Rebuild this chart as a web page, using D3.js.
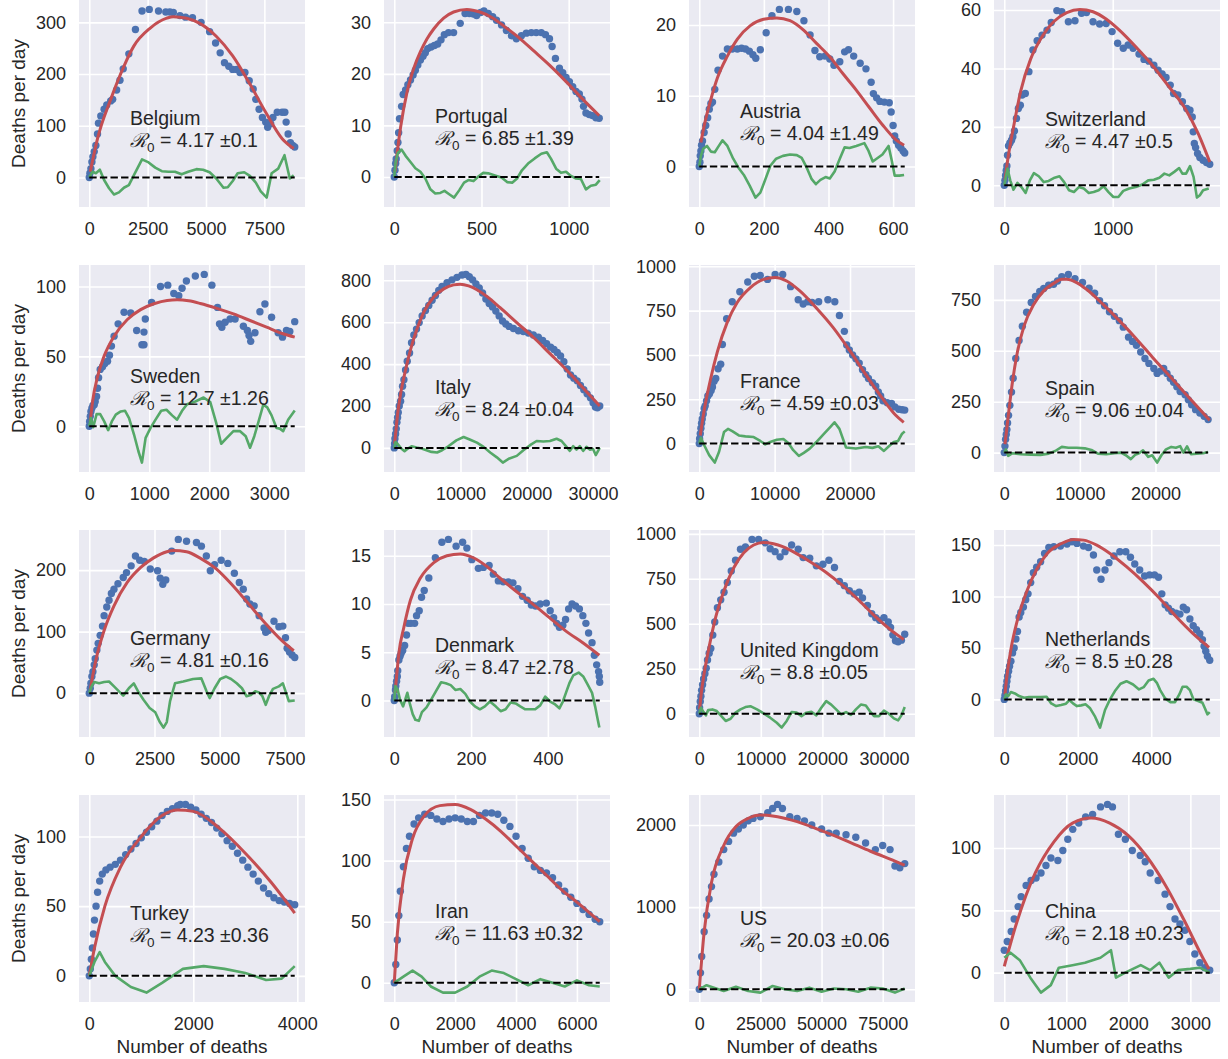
<!DOCTYPE html>
<html><head><meta charset="utf-8">
<script src="https://cdn.jsdelivr.net/npm/d3@7"></script>
<style>
body{margin:0;background:#fff}
text{font-family:"Liberation Sans",Arial,Helvetica,sans-serif;fill:#262626}
</style>
</head><body>
<svg id="chart" width="1228" height="1059"></svg>
<script>
// ---------------- DATA ----------------
const countries = ["Belgium","Portugal","Austria","Switzerland","Sweden","Italy","France","Spain",
  "Germany","Denmark","United Kingdom","Netherlands","Turkey","Iran","US","China"];
const r0Values = ["4.17","6.85","4.04","4.47","12.7","8.24","4.59","9.06","4.81","8.47","8.8","8.5","4.23","11.63","20.03","2.18"];
const r0Errors = ["0.1","1.39","1.49","0.5","1.26","0.04","0.03","0.04","0.16","2.78","0.05","0.28","0.36","0.32","0.06","0.23"];

const xTickValues = [[0,2500,5000,7500],[0,500,1000],[0,200,400,600],[0,1000],
  [0,1000,2000,3000],[0,10000,20000,30000],[0,10000,20000],[0,10000,20000],
  [0,2500,5000,7500],[0,200,400],[0,10000,20000,30000],[0,2000,4000],
  [0,2000,4000],[0,2000,4000,6000],[0,25000,50000,75000],[0,1000,2000,3000]];
const yTickValues = [[0,100,200,300],[0,10,20,30],[0,10,20],[0,20,40,60],
  [0,50,100],[0,200,400,600,800],[0,250,500,750,1000],[0,250,500,750],
  [0,100,200],[0,5,10,15],[0,250,500,750,1000],[0,50,100,150],
  [0,50,100],[0,50,100,150],[0,1000,2000],[0,50,100]];

// Belgium
const belgiumPoints = [[0,0],[28,8],[71,17],[113,30],[155,40],[212,50],[282,62],[353,84],[395,105],[494,119],[636,132],[749,140],[918,148],[1003,151],[1172,169],[1314,188],[1455,210],[1695,239],[1977,286],[2260,322],[2570,325],[2966,322],[3277,320],[3450,320],[3600,319],[3884,313],[4124,310],[4421,309],[4788,300],[5155,282],[5410,260],[5607,241],[5791,222],[5975,215],[6144,209],[6314,209],[6455,203],[6667,203],[6850,187],[7020,171],[7133,151],[7274,132],[7415,116],[7556,107],[7641,97],[7768,104],[7867,116],[8050,126],[8262,126],[8376,126],[8432,107],[8517,84],[8616,67],[8715,62],[8800,59]];
const belgiumFit = [[42,11],[353,75],[918,151],[1483,215],[1907,254],[2613,289],[3319,308],[3602,311],[4167,308],[4732,298],[5438,273],[6144,235],[6850,183],[7556,126],[8262,75],[8757,56]];
const belgiumResidual = [[0,0],[141,11],[282,8],[452,15],[636,-5],[847,-21],[1059,-33],[1271,-29],[1483,-20],[1695,-15],[1907,4],[2260,35],[2542,29],[2825,19],[3107,12],[3390,11],[3672,11],[3955,6],[4237,11],[4590,16],[4873,15],[5155,10],[5438,-2],[5749,-20],[5932,-19],[6144,-7],[6356,8],[6638,10],[6879,3],[7133,-10],[7345,-27],[7599,-39],[7811,8],[8093,17],[8362,43],[8588,-2],[8757,4]];

// Portugal
const portugalPoints = [[0,0],[4,1.3],[8,2.6],[11,3.5],[17,5.1],[21,6.7],[25,8.6],[30,11.3],[42,13.7],[51,16],[65,16.9],[78,17.9],[93,18.8],[108,19.8],[121,20.7],[135,21.7],[150,22.7],[165,23.4],[178,24.1],[192,24.9],[211,25.2],[230,25.5],[249,25.8],[268,26.6],[287,27.6],[311,28],[340,28],[378,29.8],[406,31.7],[431,31.7],[454,31.6],[472,31.3],[495,31.9],[514,32.2],[539,31.7],[564,31.1],[586,30.4],[615,29.5],[643,28.4],[672,27.4],[700,26.8],[729,27.4],[757,27.9],[786,28],[814,28],[843,28],[867,27.6],[890,26.8],[905,25.3],[924,23],[947,21.1],[966,20.2],[985,19.3],[1004,18.5],[1023,17.5],[1042,16.6],[1061,16.1],[1076,15.1],[1085,13.7],[1099,12.4],[1118,12.1],[1137,11.9],[1156,11.5],[1175,11.4]];
const portugalFit = [[4,1],[17,4.8],[36,9.6],[74,16.6],[112,21.1],[150,24.3],[188,26.8],[226,28.7],[283,30.8],[340,32],[416,32.5],[491,32],[567,30.8],[643,28.9],[719,26.9],[795,24.6],[890,21.7],[985,18.5],[1080,15.1],[1175,11.9]];
const portugalResidual = [[0,0],[8,2.9],[21,4.7],[42,5.3],[65,4.1],[93,2.9],[121,1.7],[150,1],[178,-0.3],[207,-2.4],[235,-3.2],[264,-3.1],[288,-2.7],[317,-3.4],[343,-4],[372,-2.6],[400,-1.1],[425,-0.6],[454,-0.8],[482,0.1],[510,0.8],[539,0.7],[577,0.3],[615,-0.1],[647,-1],[676,-1.1],[704,-0.3],[732,1.3],[767,2.6],[805,3.6],[843,4.5],[875,4.8],[899,3.5],[928,1.6],[956,0.8],[985,1],[1013,0.2],[1042,-0.3],[1070,-0.4],[1099,-2.4],[1127,-1.7],[1156,-1.5],[1178,-0.6]];

// Austria
const austriaPoints = [[0,0],[2,0.6],[3,1.5],[5,2.2],[7,3],[10,3.6],[15,4.8],[20,5.8],[26,6.9],[31,8.1],[36,8.9],[41,9.1],[48,10.9],[58,13.6],[72,15.6],[87,16.6],[102,16.6],[118,16.6],[131,16.7],[143,16.6],[155,16.3],[166,15.8],[175,15.3],[189,16.5],[207,18.9],[225,21.3],[248,22.2],[276,22.2],[302,21.9],[324,20.6],[343,18.6],[358,16.4],[373,15.5],[389,15.6],[404,15.2],[417,14.3],[435,14.8],[450,16.2],[462,16.5],[478,15.6],[498,14.6],[516,13.8],[532,11.9],[539,10.3],[549,9.7],[559,9.2],[573,9.1],[588,9],[594,7.7],[600,5.8],[605,4.3],[610,3.6],[617,3],[624,2.6],[631,2.2],[636,1.9]];
const austriaFit = [[5,3.4],[15,5.7],[36,9.5],[56,12.5],[87,15.6],[118,18],[158,19.9],[199,20.8],[240,21],[281,20.6],[322,19.3],[363,17.4],[404,15.5],[445,13.1],[486,10.8],[527,8.3],[567,5.9],[608,3.8],[634,3]];
const austriaResidual = [[0,0],[5,1.5],[12,2.5],[24,2.9],[36,2.1],[48,2],[59,2.8],[72,3.7],[87,2.9],[105,1.1],[123,-0.3],[138,-1.2],[156,-2.7],[174,-4.4],[189,-3.7],[204,-1.9],[220,0.1],[238,1.1],[259,1.5],[281,1.7],[302,1.6],[317,1.2],[332,-0.1],[348,-1.8],[361,-2.5],[375,-1.9],[391,-1.5],[404,-1.7],[419,-0.7],[435,1.1],[450,2.7],[465,2.6],[486,2.9],[511,3.3],[524,2.2],[537,0.7],[552,1.2],[567,1.7],[586,2.9],[596,0.8],[605,-1.3],[619,-1.3],[634,-1.2]];

// Switzerland
const switzerlandPoints = [[0,0],[6,1.7],[12,3.4],[18,5.1],[24,6.6],[30,10.3],[39,13.5],[52,14.5],[67,15.4],[79,16.6],[94,18.6],[112,22.9],[130,26.3],[148,27.4],[164,30.9],[194,31.4],[227,38.9],[264,46.3],[303,49.5],[348,51.4],[394,53.1],[433,55.7],[485,59.8],[530,59.4],[591,56],[652,56.3],[712,58.9],[758,59.1],[818,56],[879,55.2],[939,55.4],[994,52.6],[1045,48.6],[1097,46.9],[1142,48],[1188,46.9],[1242,44.9],[1288,43.1],[1333,42.5],[1379,41.1],[1418,39.4],[1455,38.1],[1491,36.9],[1530,34.3],[1561,31.4],[1600,30.9],[1642,28.6],[1682,26.3],[1712,25.7],[1733,23.4],[1742,18.3],[1752,14.3],[1764,12.9],[1782,10.9],[1803,9.5],[1833,8.6],[1864,7.8],[1894,7.2]];
const switzerlandFit = [[6,1.7],[30,8.3],[91,21.1],[152,32.3],[242,43.1],[333,49.9],[455,56],[576,59.1],[697,60.2],[818,59.4],[939,56.9],[1061,53.1],[1212,47.4],[1364,41.1],[1515,33.9],[1667,26.3],[1788,17.7],[1894,8]];
const switzerlandResidual = [[0,0],[15,2.9],[30,5.7],[55,1.7],[85,-1.5],[121,0.8],[158,-0.6],[197,-2.6],[236,1.7],[273,4.2],[318,3.1],[364,1.1],[409,1.5],[464,2.6],[509,3.1],[552,1.1],[597,-1.7],[642,-2.3],[688,-0.6],[733,-1.1],[779,-2.6],[824,-2.3],[870,-1.7],[915,-0.3],[961,-2.3],[1006,-4],[1052,-4],[1097,-1.9],[1152,-1.1],[1212,-0.6],[1273,0.3],[1327,1.7],[1379,1.9],[1430,2.6],[1476,4],[1521,3.4],[1567,4.6],[1612,5.9],[1642,4],[1676,4],[1712,6.6],[1745,2.9],[1776,-4.2],[1803,-3.4],[1833,-1.7],[1885,-1.1]];

// Sweden
const swedenPoints = [[0,0],[6,3.5],[17,7.1],[28,10.6],[44,13],[61,14.9],[83,15.4],[99,17.7],[122,21.3],[138,27.2],[155,34.8],[182,40.7],[221,42.6],[260,44.9],[304,46.6],[337,50.8],[370,57.4],[414,64.5],[481,73.3],[580,81.6],[691,81.1],[790,68.6],[878,58.4],[912,58.4],[912,67.4],[934,76.8],[1039,88.7],[1188,100],[1309,101],[1409,95],[1492,93.4],[1547,98.8],[1619,104],[1768,107.6],[1917,108.7],[2044,101],[2138,85.1],[2171,73.3],[2210,70.9],[2265,74.5],[2348,76.8],[2431,76.8],[2569,71.6],[2635,68.6],[2663,65],[2691,60.8],[2762,66.9],[2845,82],[2928,87.5],[3039,78],[3149,66.9],[3221,63.8],[3287,68.6],[3343,67.9],[3425,74.9]];
const swedenFit = [[17,3.5],[55,17.7],[138,35.5],[249,50.4],[414,64.5],[635,76.4],[856,83.5],[1077,87.7],[1298,90.1],[1464,90.5],[1657,89.8],[1851,87.9],[2127,84.4],[2403,80.4],[2680,75.7],[2956,70.9],[3232,66.2],[3425,63.8]];
const swedenResidual = [[0,0],[28,5.9],[66,-0.7],[122,8.7],[182,8.7],[249,3.5],[315,-2.8],[376,3.5],[442,8.3],[525,10.6],[597,11.1],[663,5.9],[746,-5.9],[818,-17.7],[878,-26],[939,-8.3],[1022,-1.2],[1105,4.7],[1199,11.1],[1287,11.8],[1381,7.8],[1464,4.7],[1547,11.1],[1630,15.8],[1768,17.7],[1906,20.6],[2017,17.3],[2116,2.4],[2199,-12.5],[2293,-8.3],[2403,-3.5],[2514,-3.5],[2608,-7.1],[2680,-15.4],[2751,-7.1],[2823,3.5],[2901,15.4],[2967,13.5],[3039,7.8],[3122,-1.2],[3177,-1.7],[3232,-3.5],[3315,4.7],[3425,11.3]];

// Italy
const italyPoints = [[0,0],[50,20],[100,44],[200,67],[301,91],[401,122],[501,145],[601,169],[752,200],[952,223],[1103,255],[1253,294],[1454,325],[1704,372],[1955,414],[2306,453],[2607,502],[2957,539],[3358,567],[3759,598],[4210,630],[4711,656],[5212,680],[5714,705],[6215,727],[6716,752],[7218,770],[7970,789],[8722,802],[9474,814],[10226,825],[10827,828],[11328,817],[11830,802],[12331,783],[12832,763],[13333,739],[13835,711],[14336,689],[14837,673],[15338,653],[15840,630],[16341,606],[16842,591],[17343,580],[17995,570],[18747,559],[19499,555],[20251,548],[21003,539],[21754,528],[22406,513],[23008,497],[23609,481],[24110,470],[24612,455],[25113,439],[25614,411],[26115,377],[26617,348],[27118,333],[27619,320],[28120,298],[28622,278],[29123,258],[29624,239],[30025,216],[30376,195],[30676,192],[31028,200]];
const italyFit = [[50,20],[251,83],[501,161],[952,258],[1704,372],[2456,469],[3458,570],[4460,648],[5964,720],[7469,759],[8973,778],[9975,781],[11228,773],[12481,755],[13985,723],[15991,669],[18497,598],[21003,528],[23509,450],[26015,372],[28521,286],[31028,200]];
const italyResidual = [[0,0],[200,28],[551,17],[1053,-3],[1554,-16],[2055,-3],[2607,8],[3358,2],[4110,-3],[4862,-11],[5614,-19],[6466,-22],[7218,-11],[8220,9],[9373,36],[10476,52],[11479,39],[12481,25],[13484,5],[14486,-22],[15489,-45],[16391,-70],[17393,-50],[18497,-38],[19499,-11],[20501,13],[21504,33],[22506,31],[23509,33],[24511,44],[25263,33],[25915,9],[26516,-14],[27018,8],[27519,-8],[28020,8],[28521,-14],[29023,5],[29524,-8],[30025,-5],[30426,-34],[31028,0]];

// France
const francePoints = [[0,0],[44,28],[131,56],[219,87],[306,115],[394,139],[525,167],[656,198],[788,213],[963,241],[1138,269],[1357,281],[1575,300],[1750,319],[1969,352],[2188,367],[2494,422],[2844,448],[3063,559],[3632,704],[4376,800],[5382,856],[6433,911],[7308,944],[8095,948],[9058,926],[10065,954],[11071,954],[12121,885],[13128,811],[13784,787],[14397,800],[14966,796],[15841,800],[17066,811],[17985,800],[18598,722],[19254,633],[19560,556],[19911,528],[20348,500],[20786,478],[21224,454],[21661,417],[22099,389],[22449,367],[22974,343],[23412,324],[23762,291],[24068,269],[24374,241],[24943,231],[25512,226],[25950,207],[26475,194],[26913,191],[27263,189]];
const franceFit = [[131,46],[656,189],[1532,370],[2407,519],[3720,685],[5032,796],[6783,880],[8533,926],[10065,937],[11597,917],[13347,861],[15535,765],[17723,657],[19911,528],[22099,389],[24287,256],[26037,161],[27131,120]];
const franceResidual = [[0,0],[219,33],[656,-9],[1313,-65],[2057,-107],[2626,-46],[3282,65],[3807,83],[4376,70],[5251,46],[6126,41],[7220,37],[8095,15],[8752,-4],[9408,9],[10283,22],[11159,26],[11815,4],[12471,-37],[13215,-69],[13872,-52],[14660,-28],[15535,9],[16629,59],[17373,93],[17941,120],[18598,83],[19473,-22],[20786,-28],[22099,-19],[22974,-24],[23762,-15],[24505,-41],[25162,-15],[25818,9],[26387,15],[26913,56],[27263,69]];

// Spain
const spainPoints = [[0,0],[87,32],[174,65],[261,89],[348,113],[435,146],[565,183],[739,232],[957,297],[1174,365],[1522,462],[1957,551],[2391,621],[2957,689],[3565,737],[4130,767],[4696,791],[5217,806],[5870,822],[6522,827],[7043,843],[7609,864],[8478,875],[9348,854],[10348,835],[11217,807],[11957,783],[12609,746],[13261,721],[13913,692],[14565,669],[15217,648],[15739,616],[16435,567],[16957,546],[17478,527],[18043,494],[18609,462],[19130,438],[19783,413],[20217,389],[20652,400],[21087,413],[21522,389],[21957,365],[22391,345],[22826,324],[23261,300],[23913,284],[24348,259],[24783,235],[25304,211],[25870,194],[26435,178],[26957,162]];
const spainFit = [[87,41],[348,122],[652,219],[1087,348],[1739,494],[2609,621],[3913,729],[5217,794],[6522,831],[7609,851],[8261,851],[9565,835],[10870,802],[13043,729],[15217,648],[17391,562],[19565,470],[21739,381],[23913,292],[26087,203],[27174,159]];
const spainResidual = [[0,0],[217,16],[522,-16],[1087,-3],[2174,-8],[3478,-10],[4783,-11],[5870,-5],[6739,8],[7609,28],[8478,24],[9565,24],[10652,21],[11522,13],[12391,-5],[13478,-8],[14565,-3],[15435,0],[16087,-13],[16739,-32],[17304,-11],[17826,-3],[18348,11],[19043,-21],[19565,-13],[20217,-49],[20783,-13],[21391,16],[22087,28],[22696,24],[23261,32],[23696,0],[24174,31],[24696,-8],[25435,-5],[26304,-3],[26957,3]];

// Germany
const germanyPoints = [[0,0],[38,8],[63,16],[101,27],[139,35],[190,46],[228,56],[291,70],[341,81],[417,94],[506,109],[569,126],[670,140],[758,151],[847,162],[948,169],[1100,178],[1302,188],[1428,196],[1605,207],[1770,223],[1934,216],[2111,214],[2339,202],[2617,199],[2718,187],[2819,177],[2933,184],[3161,231],[3413,250],[3729,247],[4109,245],[4298,239],[4488,223],[4640,199],[4804,209],[5057,216],[5310,211],[5562,195],[5752,180],[5904,169],[6030,153],[6157,145],[6321,142],[6511,126],[6701,106],[6764,99],[6865,102],[7080,117],[7269,108],[7421,109],[7522,90],[7585,73],[7674,67],[7775,62],[7876,58]];
const germanyFit = [[38,5],[126,27],[316,65],[569,102],[948,142],[1454,180],[1960,204],[2465,220],[2971,230],[3224,232],[3729,230],[4235,220],[4867,202],[5499,175],[6131,144],[6764,113],[7396,85],[7838,69]];
const germanyResidual = [[0,0],[88,11],[190,18],[379,16],[569,18],[758,19],[948,11],[1138,3],[1302,-4],[1517,8],[1707,16],[1896,1],[2086,-11],[2314,-24],[2529,-31],[2693,-46],[2845,-56],[2971,-47],[3097,-13],[3287,16],[3603,19],[3982,23],[4298,24],[4488,4],[4614,-8],[4804,8],[5019,23],[5246,27],[5436,23],[5651,16],[5853,8],[6030,-5],[6194,-3],[6359,3],[6511,1],[6637,-5],[6764,-19],[6890,-5],[7042,7],[7269,11],[7421,16],[7548,0],[7649,-13],[7876,-12]];

// Denmark
const denmarkPoints = [[0,0],[1,0.4],[3,1.1],[4,1.5],[6,2],[8,2.5],[9,3.1],[12,4.2],[15,4.6],[18,4.9],[22,5.2],[27,5.7],[32,6.8],[36,8],[43,8],[53,8],[58,8.8],[65,9.3],[71,10.7],[78,11.4],[90,12.7],[107,14.8],[124,16.4],[141,16.7],[161,16],[178,16.4],[189,15.8],[202,14.6],[219,13.7],[232,13.8],[247,14],[258,13.1],[271,12.4],[284,12.3],[297,12.3],[309,12.2],[322,11.6],[334,10.8],[346,10.4],[357,9.9],[368,9.8],[380,10],[396,10.1],[406,9.3],[415,8.6],[423,8],[430,7.6],[439,7.8],[446,8.4],[454,9.5],[463,10],[472,9.8],[482,9.5],[491,8.8],[499,8],[506,7],[515,6],[521,4.7],[527,3.7],[532,3],[534,2.5],[535,1.9]];
const denmarkFit = [[2,0.8],[6,2.5],[12,4.9],[25,7.6],[42,10.4],[68,12.7],[103,14.3],[137,15],[172,15.2],[206,14.8],[241,13.9],[275,12.7],[318,11.3],[361,10],[404,8.6],[447,7.2],[491,6],[534,4.7]];
const denmarkResidual = [[0,0],[3,1.5],[9,1.1],[15,0.1],[23,-0.6],[34,0.8],[41,-0.4],[48,-1.4],[55,-2],[64,-2.1],[72,-1.2],[84,-0.7],[96,0.1],[109,1],[122,1.9],[134,1.8],[147,1.6],[159,1.1],[172,1.2],[185,0.7],[197,-0.1],[210,-0.6],[223,-0.9],[236,-0.6],[249,-0.1],[264,-0.6],[277,-1.1],[290,-0.9],[303,-0.2],[316,-0.3],[328,-0.6],[341,-0.9],[354,-0.9],[367,-0.9],[380,-0.5],[393,0.4],[406,-0.1],[419,-0.4],[430,-0.8],[439,-0.1],[447,0.8],[456,1.8],[466,2.6],[480,2.9],[492,2.5],[503,1.7],[515,0.8],[523,-0.6],[529,-1.8],[534,-2.8]];

// United Kingdom
const ukPoints = [[0,0],[54,33],[161,68],[268,97],[375,130],[536,161],[696,193],[911,222],[1125,253],[1339,299],[1607,336],[1875,363],[2196,437],[2518,510],[2946,589],[3482,633],[4018,675],[4553,730],[5196,794],[5893,853],[6696,914],[7500,927],[8571,969],[9643,969],[10714,950],[11518,917],[12321,901],[13125,872],[13929,901],[15000,938],[16071,914],[16875,868],[17946,864],[19018,822],[20089,831],[21054,853],[21964,813],[22768,736],[23571,712],[24375,684],[25179,666],[25982,675],[26518,644],[27321,602],[28018,556],[28661,534],[29304,519],[30000,534],[30696,510],[31071,479],[31446,437],[31875,406],[32304,400],[32839,409],[33375,442]];
const ukFit = [[54,24],[268,97],[804,226],[1607,372],[2679,538],[4018,684],[5625,813],[7232,895],[8839,938],[10446,952],[12054,945],[13661,927],[15804,890],[17946,846],[20625,785],[23304,712],[25982,629],[28661,538],[31339,459],[33214,413]];
const ukResidual = [[0,0],[268,33],[696,9],[1071,-9],[1446,20],[2143,24],[2839,15],[3589,-13],[4286,-40],[5089,-28],[5893,6],[6696,24],[7500,37],[8304,42],[9375,24],[10446,2],[11518,-22],[12589,-50],[13393,-77],[14196,-40],[15000,9],[15804,6],[16607,-13],[17411,6],[18214,11],[19018,-9],[19821,33],[20625,70],[21429,51],[22232,24],[23036,-4],[23839,9],[24643,-7],[25446,24],[26250,51],[27054,46],[27696,15],[28393,-13],[29196,-13],[30000,18],[30804,0],[31607,-26],[32304,-37],[32839,-9],[33375,37]];

// Netherlands
const netherlandsPoints = [[0,0],[18,3.9],[36,8.1],[54,12.9],[72,17.7],[90,22.6],[117,27.4],[144,32.3],[180,37.1],[225,45.2],[270,50],[315,58.7],[360,66.1],[404,80],[449,84.5],[521,89.7],[584,96.8],[647,102.6],[719,113.5],[791,123.2],[881,128.4],[989,133.9],[1097,141.9],[1213,147.7],[1348,148.4],[1528,149],[1708,151],[1843,153.2],[1978,151.6],[2157,149],[2292,147.7],[2427,140.3],[2517,125.8],[2634,116.8],[2742,125.8],[2850,132.9],[2985,139.4],[3146,143.5],[3308,143.5],[3434,138.1],[3551,131.6],[3686,125.8],[3821,120],[3955,121],[4090,121],[4198,118.7],[4288,102.6],[4378,91.9],[4468,88.7],[4558,85.5],[4675,83.9],[4782,82.9],[4872,89.7],[4962,87.1],[5052,78.1],[5142,71.6],[5232,67.7],[5322,63.9],[5394,58.1],[5439,51.6],[5484,46.8],[5529,41.9],[5592,38.1]];
const netherlandsFit = [[18,4.8],[72,22.6],[180,48.4],[360,77.4],[629,106.5],[899,127.4],[1169,141.9],[1528,151],[1888,155.5],[2157,154.8],[2517,150],[2877,141.9],[3326,129],[3776,114.5],[4225,98.4],[4675,80.6],[5124,64.5],[5574,50.6]];
const netherlandsResidual = [[0,0],[45,4.8],[108,3.2],[180,7.1],[288,5.8],[404,3.2],[539,1.6],[674,2.3],[809,2.3],[989,2.3],[1151,2.6],[1277,-3.9],[1411,-6.5],[1546,-5.5],[1681,-4.2],[1771,-0.6],[1870,-3.9],[1978,-6.5],[2094,-5.8],[2211,-4.8],[2337,-8.7],[2472,-16.8],[2607,-27.4],[2742,-10.3],[2877,0],[3012,8.1],[3164,15.2],[3326,17.7],[3506,14.5],[3668,9.7],[3794,11.9],[3928,18.4],[4063,20],[4153,16.1],[4243,9],[4378,1],[4513,-2.6],[4648,-2.6],[4764,4.8],[4854,12.3],[4962,12.3],[5052,9],[5151,0],[5277,-1.6],[5394,-3.2],[5466,-9],[5529,-14.5],[5592,-12.3]];

// Turkey
const turkeyPoints = [[0,0],[20,5],[40,12],[60,20],[80,30],[100,40],[130,50],[160,60],[200,68],[250,73],[320,76],[400,78],[500,80],[600,83],[700,87],[800,91],[900,95],[1000,99],[1100,103],[1200,107],[1300,111],[1400,115],[1500,118],[1600,120],[1700,122],[1750,123],[1850,123],[1950,121],[2050,119],[2150,116],[2250,113],[2350,110],[2450,106],[2550,102],[2650,97],[2750,93],[2850,88],[2950,83],[3050,78],[3150,73],[3250,68],[3350,63],[3450,59],[3550,56],[3650,54],[3750,53],[3850,52],[3950,51]];
const turkeyFit = [[0,0],[100,20],[300,50],[600,78],[1000,100],[1400,115],[1700,119],[2000,118],[2500,106],[3000,88],[3500,67],[3950,45]];
const turkeyResidual = [[0,0],[100,10],[200,17],[300,10],[500,0],[800,-8],[1100,-12],[1400,-5],[1800,5],[2200,7],[2600,5],[3000,2],[3400,-3],[3700,-2],[3950,7]];

// Iran
const iranPoints = [[0,0],[50,15],[100,35],[150,55],[200,75],[300,95],[400,110],[500,120],[650,130],[800,135],[1000,138],[1200,137],[1400,134],[1600,132],[1800,134],[2000,135],[2200,134],[2400,132],[2600,132],[2800,137],[3000,139],[3200,139],[3400,138],[3600,133],[3800,128],[4000,120],[4200,110],[4400,102],[4600,95],[4800,92],[5000,90],[5200,86],[5400,80],[5600,75],[5800,70],[6000,65],[6200,60],[6400,56],[6600,52],[6750,50]];
const iranFit = [[0,0],[100,40],[300,85],[600,118],[1000,137],[1500,145],[2000,146],[2500,142],[3000,134],[3500,124],[4000,112],[4500,100],[5000,88],[5500,76],[6000,66],[6750,50]];
const iranResidual = [[0,0],[300,5],[600,10],[900,5],[1200,-3],[1600,-8],[2000,-8],[2400,-3],[2800,5],[3200,10],[3600,8],[4000,3],[4400,-2],[4800,3],[5200,0],[5600,-3],[6000,2],[6400,-2],[6750,-3]];

// US
const usPoints = [[0,0],[500,200],[1000,400],[2000,700],[3000,900],[4000,1100],[5000,1250],[6000,1400],[8000,1550],[10000,1700],[12000,1800],[14000,1900],[16000,1950],[18000,2000],[20000,2050],[22000,2080],[25000,2100],[28000,2150],[30000,2200],[32000,2250],[34000,2200],[37000,2100],[40000,2080],[43000,2050],[46000,2000],[50000,1950],[53000,1900],[56000,1900],[60000,1880],[64000,1850],[68000,1780],[72000,1700],[75000,1750],[78000,1700],[80000,1500],[82000,1480],[84000,1530]];
const usFit = [[0,0],[2000,700],[5000,1300],[10000,1750],[15000,1980],[20000,2080],[25000,2120],[30000,2110],[40000,2040],[50000,1930],[60000,1810],[70000,1680],[80000,1560],[84000,1510]];
const usResidual = [[0,0],[3000,50],[6000,20],[10000,-20],[15000,30],[20000,-20],[25000,-40],[30000,40],[35000,0],[40000,-20],[45000,20],[50000,-30],[55000,10],[60000,0],[65000,-30],[70000,20],[75000,10],[80000,-40],[84000,10]];

// China
const chinaPoints = [[0,18],[48,25],[112,33],[160,43],[224,53],[272,61],[352,70],[432,74],[512,76],[592,80],[672,86],[752,92],[864,90],[944,98],[1024,107],[1104,115],[1200,120],[1312,125],[1424,127],[1552,133],[1664,135],[1744,133],[1840,111],[1952,107],[2064,98],[2192,94],[2272,89],[2352,80],[2480,74],[2592,63],[2672,53],[2752,43],[2832,39],[2912,34],[2992,25],[3072,15],[3152,8],[3232,4],[3312,2]];
const chinaFit = [[0,5],[200,40],[500,80],[800,105],[1100,120],[1400,124],[1700,120],[2000,110],[2300,93],[2600,70],[2900,42],[3200,12],[3300,3]];
const chinaResidual = [[0,12],[100,16],[250,10],[420,-4],[590,-16],[750,-10],[880,4],[1100,6],[1300,8],[1550,12],[1720,18],[1800,-4],[1950,0],[2200,6],[2350,2],[2500,8],[2650,-4],[2800,2],[3000,3],[3150,4],[3312,0]];

const pointSets = [belgiumPoints,portugalPoints,austriaPoints,switzerlandPoints,swedenPoints,italyPoints,francePoints,spainPoints,germanyPoints,denmarkPoints,ukPoints,netherlandsPoints,turkeyPoints,iranPoints,usPoints,chinaPoints];
const fitSets = [belgiumFit,portugalFit,austriaFit,switzerlandFit,swedenFit,italyFit,franceFit,spainFit,germanyFit,denmarkFit,ukFit,netherlandsFit,turkeyFit,iranFit,usFit,chinaFit];
const residualSets = [belgiumResidual,portugalResidual,austriaResidual,switzerlandResidual,swedenResidual,italyResidual,franceResidual,spainResidual,germanyResidual,denmarkResidual,ukResidual,netherlandsResidual,turkeyResidual,iranResidual,usResidual,chinaResidual];

// ---------------- LAYOUT ----------------
const colLeft = [79, 384, 689, 994];
const rowTop = [0, 265, 530, 795];
const W = 226, H = 207;
const labelBaseline = [125,123,118,126, 118,129,123,130, 115,122,127,116, 125,123,130,123];

const svg = d3.select("#chart");

countries.forEach((name, i) => {
  const r = Math.floor(i / 4), c = i % 4;
  const g = svg.append("g").attr("transform", `translate(${colLeft[c]},${rowTop[r]})`);
  const pts = pointSets[i], fit = fitSets[i], res = residualSets[i];
  const all = pts.concat(fit, res);
  const [xa, xb] = d3.extent(all, d => d[0]);
  const ya = Math.min(0, d3.min(all, d => d[1])), yb = d3.max(all, d => d[1]);
  const x = d3.scaleLinear().domain([xa - 0.05 * (xb - xa), xb + 0.05 * (xb - xa)]).range([0, W]);
  const y = d3.scaleLinear().domain([ya - 0.05 * (yb - ya), yb + 0.05 * (yb - ya)]).range([H, 0]);

  g.append("rect").attr("width", W).attr("height", H).attr("fill", "#EAEAF2");

  // grid
  g.append("g").call(d3.axisBottom(x).tickValues(xTickValues[i]).tickSize(H).tickFormat(""))
    .call(s => s.select(".domain").remove())
    .call(s => s.selectAll("line").attr("stroke", "#fff").attr("stroke-width", 1.6));
  g.append("g").call(d3.axisRight(y).tickValues(yTickValues[i]).tickSize(W).tickFormat(""))
    .call(s => s.select(".domain").remove())
    .call(s => s.selectAll("line").attr("stroke", "#fff").attr("stroke-width", 1.6));

  // tick labels
  g.append("g").attr("transform", `translate(0,${H})`)
    .call(d3.axisBottom(x).tickValues(xTickValues[i]).tickSize(0).tickPadding(15).tickFormat(d => String(d)))
    .call(s => s.select(".domain").remove())
    .call(s => s.selectAll("text").attr("font-size", 18).attr("font-family", null).attr("fill", "#262626"));
  g.append("g")
    .call(d3.axisLeft(y).tickValues(yTickValues[i]).tickSize(0).tickPadding(13).tickFormat(d => String(d)))
    .call(s => s.select(".domain").remove())
    .call(s => s.selectAll("text").attr("font-size", 18).attr("font-family", null).attr("fill", "#262626"));

  // scatter
  g.append("g").selectAll("circle").data(pts).join("circle")
    .attr("cx", d => x(d[0])).attr("cy", d => y(d[1])).attr("r", 3.7).attr("fill", "#4C72B0");

  // fit
  g.append("path").datum(fit)
    .attr("d", d3.line().x(d => x(d[0])).y(d => y(d[1])).curve(d3.curveMonotoneX))
    .attr("fill", "none").attr("stroke", "#C44E52").attr("stroke-width", 3);

  // residual
  g.append("path").datum(res)
    .attr("d", d3.line().x(d => x(d[0])).y(d => y(d[1])))
    .attr("fill", "none").attr("stroke", "#55A868").attr("stroke-width", 2.6).attr("stroke-linejoin", "round");

  // zero dashed line
  const [px0, px1] = d3.extent(pts, d => d[0]);
  g.append("line").attr("x1", x(px0)).attr("x2", x(px1)).attr("y1", y(0)).attr("y2", y(0))
    .attr("stroke", "#000").attr("stroke-width", 2).attr("stroke-dasharray", "7.4,3.2");

  // annotation
  const lb = labelBaseline[i];
  g.append("text").attr("x", 51).attr("y", lb).attr("font-size", 19.5).text(name);
  const t = g.append("text").attr("x", 51).attr("y", lb + 22).attr("font-size", 19.5);
  t.append("tspan").attr("font-family", "DejaVu Serif").attr("font-style", "italic").text("\u211B");
  t.append("tspan").attr("font-size", 13.5).attr("dy", 5).text("0");
  t.append("tspan").attr("dy", -5).text(` = ${r0Values[i]} \u00B1${r0Errors[i]}`);

  // axis labels
  if (c === 0) {
    g.append("text").attr("transform", `translate(-54,${H / 2}) rotate(-90)`)
      .attr("text-anchor", "middle").attr("font-size", 19).text("Deaths per day");
  }
  if (r === 3) {
    g.append("text").attr("x", W / 2).attr("y", H + 51)
      .attr("text-anchor", "middle").attr("font-size", 19).text("Number of deaths");
  }
});
</script>
</body></html>
